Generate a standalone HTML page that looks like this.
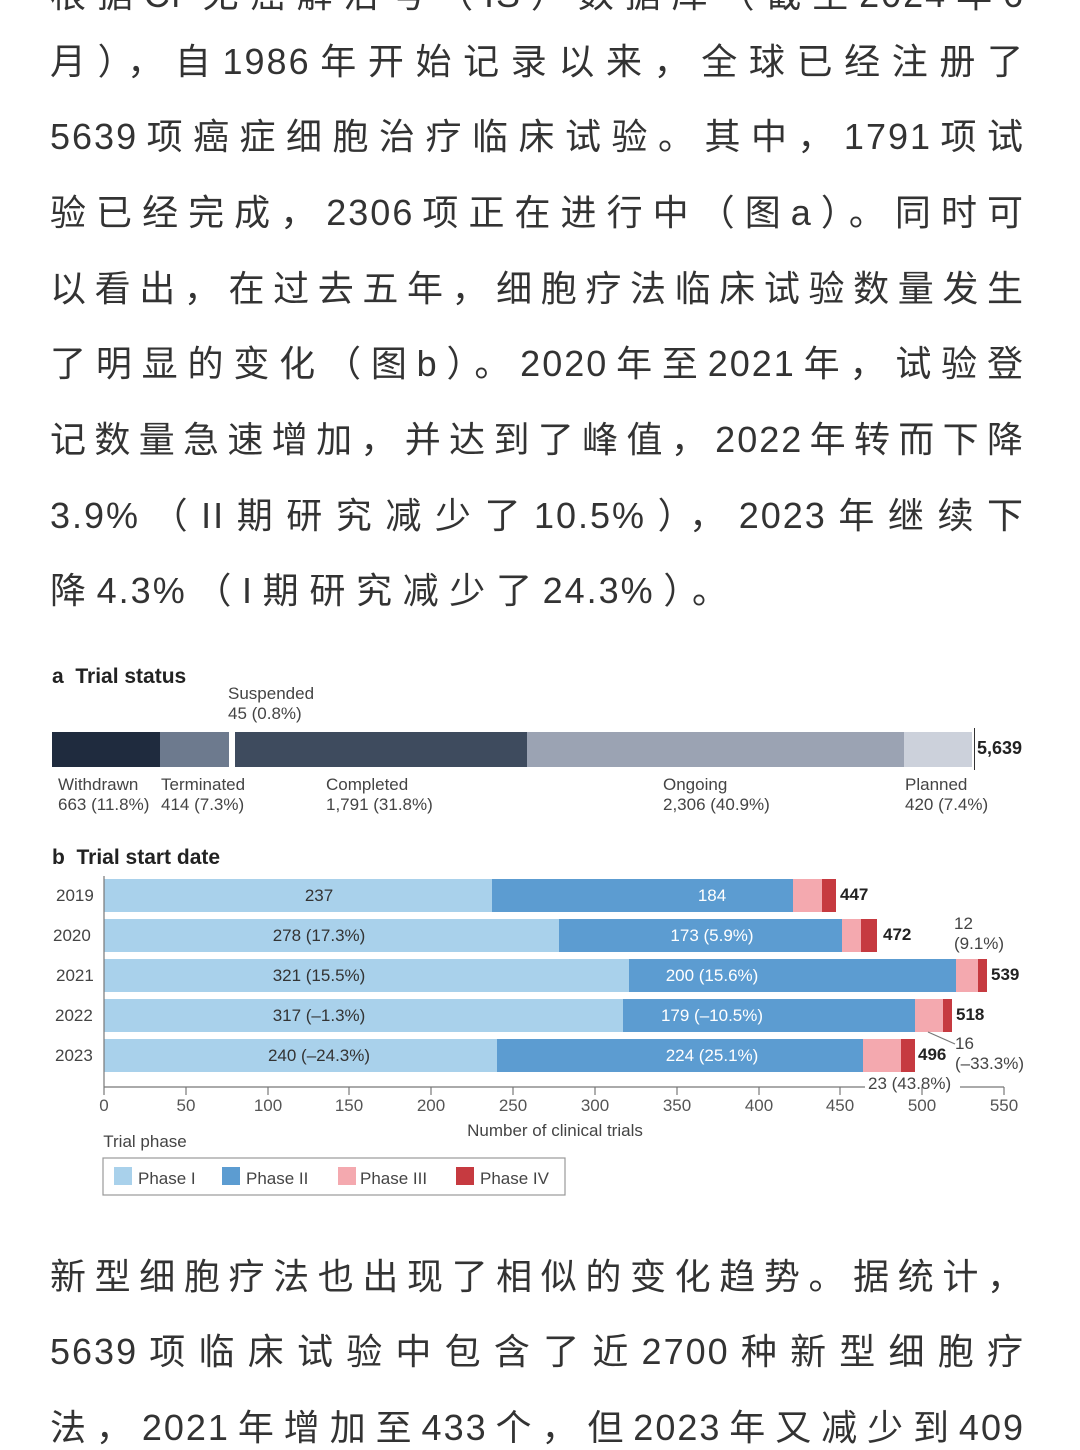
<!DOCTYPE html>
<html><head><meta charset="utf-8"><style>
body{margin:0;width:1080px;height:1439px;background:#fff;overflow:hidden;position:relative;font-family:"Liberation Sans","Noto Sans CJK SC",sans-serif}
.t{position:absolute;left:50px;width:975px;font-size:36px;color:#333;text-align:justify;text-align-last:justify;white-space:nowrap;line-height:44px;letter-spacing:2px}
.a{position:absolute;font-size:17px;color:#444;line-height:20px;white-space:nowrap}
.b{position:absolute;font-weight:bold;color:#222;white-space:nowrap}
.r{position:absolute;height:33px}
.l{position:absolute;font-size:17px;color:#333;line-height:33px;text-align:center;white-space:nowrap}
</style></head><body>
<div class="t" style="top:-27px">根据Ci 无癌解治号（IS）数据库（截至2024年6</div>
<div class="t" style="top:40px">月），自1986年开始记录以来，全球已经注册了</div>
<div class="t" style="top:115px">5639项癌症细胞治疗临床试验。其中，1791项试</div>
<div class="t" style="top:191px">验已经完成，2306项正在进行中（图a）。同时可</div>
<div class="t" style="top:267px">以看出，在过去五年，细胞疗法临床试验数量发生</div>
<div class="t" style="top:342px">了明显的变化（图b）。2020年至2021年，试验登</div>
<div class="t" style="top:418px">记数量急速增加，并达到了峰值，2022年转而下降</div>
<div class="t" style="top:494px">3.9%（II期研究减少了10.5%），2023年继续下</div>
<div class="t" style="top:569px;width:680px">降4.3%（I期研究减少了24.3%）。</div>

<div class="b" style="left:52px;top:665px;font-size:21px">a&nbsp; Trial status</div>
<div class="a" style="left:228px;top:684px">Suspended<br>45 (0.8%)</div>
<div class="r" style="left:52px;top:732px;width:108px;height:35px;background:#1f2b3e"></div>
<div class="r" style="left:160px;top:732px;width:69px;height:35px;background:#6d7a8e"></div>
<div class="r" style="left:235px;top:732px;width:292px;height:35px;background:#3e4b5e"></div>
<div class="r" style="left:527px;top:732px;width:377px;height:35px;background:#9ba3b3"></div>
<div class="r" style="left:904px;top:732px;width:68px;height:35px;background:#ccd1db"></div>
<div style="position:absolute;left:974px;top:728px;width:1px;height:42px;background:#333"></div>
<div class="b" style="left:977px;top:738px;font-size:18px">5,639</div>
<div class="a" style="left:58px;top:775px">Withdrawn<br>663 (11.8%)</div>
<div class="a" style="left:161px;top:775px">Terminated<br>414 (7.3%)</div>
<div class="a" style="left:326px;top:775px">Completed<br>1,791 (31.8%)</div>
<div class="a" style="left:663px;top:775px">Ongoing<br>2,306 (40.9%)</div>
<div class="a" style="left:905px;top:775px">Planned<br>420 (7.4%)</div>

<div class="b" style="left:52px;top:846px;font-size:21px">b&nbsp; Trial start date</div>

<div class="a" style="left:56px;top:886px">2019</div>
<div class="r" style="left:104px;top:879px;width:388px;background:#a9d1eb"></div>
<div class="r" style="left:492px;top:879px;width:301px;background:#5c9cd1"></div>
<div class="r" style="left:793px;top:879px;width:29px;background:#f4a9af"></div>
<div class="r" style="left:822px;top:879px;width:14px;background:#c63a40"></div>
<div class="l" style="left:104px;top:879px;width:430px">237</div>
<div class="l" style="left:492px;top:879px;width:440px;color:#fff">184</div>
<div class="b" style="left:840px;top:885px;font-size:17px">447</div>

<div class="a" style="left:53px;top:926px">2020</div>
<div class="r" style="left:104px;top:919px;width:455px;background:#a9d1eb"></div>
<div class="r" style="left:559px;top:919px;width:283px;background:#5c9cd1"></div>
<div class="r" style="left:842px;top:919px;width:19px;background:#f4a9af"></div>
<div class="r" style="left:861px;top:919px;width:16px;background:#c63a40"></div>
<div class="l" style="left:104px;top:919px;width:430px">278 (17.3%)</div>
<div class="l" style="left:492px;top:919px;width:440px;color:#fff">173 (5.9%)</div>
<div class="b" style="left:883px;top:925px;font-size:17px">472</div>
<div class="a" style="left:954px;top:914px">12<br>(9.1%)</div>

<div class="a" style="left:56px;top:966px">2021</div>
<div class="r" style="left:104px;top:959px;width:525px;background:#a9d1eb"></div>
<div class="r" style="left:629px;top:959px;width:327px;background:#5c9cd1"></div>
<div class="r" style="left:956px;top:959px;width:22px;background:#f4a9af"></div>
<div class="r" style="left:978px;top:959px;width:9px;background:#c63a40"></div>
<div class="l" style="left:104px;top:959px;width:430px">321 (15.5%)</div>
<div class="l" style="left:492px;top:959px;width:440px;color:#fff">200 (15.6%)</div>
<div class="b" style="left:991px;top:965px;font-size:17px">539</div>

<div class="a" style="left:55px;top:1006px">2022</div>
<div class="r" style="left:104px;top:999px;width:519px;background:#a9d1eb"></div>
<div class="r" style="left:623px;top:999px;width:292px;background:#5c9cd1"></div>
<div class="r" style="left:915px;top:999px;width:28px;background:#f4a9af"></div>
<div class="r" style="left:943px;top:999px;width:9px;background:#c63a40"></div>
<div class="l" style="left:104px;top:999px;width:430px">317 (–1.3%)</div>
<div class="l" style="left:492px;top:999px;width:440px;color:#fff">179 (–10.5%)</div>
<div class="b" style="left:956px;top:1005px;font-size:17px">518</div>
<div class="a" style="left:955px;top:1034px">16<br>(–33.3%)</div>

<div class="a" style="left:55px;top:1046px">2023</div>
<div class="r" style="left:104px;top:1039px;width:393px;background:#a9d1eb"></div>
<div class="r" style="left:497px;top:1039px;width:366px;background:#5c9cd1"></div>
<div class="r" style="left:863px;top:1039px;width:38px;background:#f4a9af"></div>
<div class="r" style="left:901px;top:1039px;width:14px;background:#c63a40"></div>
<div class="l" style="left:104px;top:1039px;width:430px">240 (–24.3%)</div>
<div class="l" style="left:492px;top:1039px;width:440px;color:#fff">224 (25.1%)</div>
<div class="b" style="left:918px;top:1045px;font-size:17px">496</div>
<div class="a" style="left:868px;top:1074px;background:#fff">23 (43.8%)</div>

<svg style="position:absolute;left:0;top:0" width="1080" height="1439">
<g stroke="#777" stroke-width="1.2">
<line x1="104" y1="876" x2="104" y2="1087"/>
<line x1="104" y1="1087" x2="865" y2="1087"/>
<line x1="960" y1="1087" x2="1004" y2="1087"/>
<line x1="104" y1="1087" x2="104" y2="1095"/><line x1="186" y1="1087" x2="186" y2="1095"/><line x1="268" y1="1087" x2="268" y2="1095"/><line x1="349" y1="1087" x2="349" y2="1095"/><line x1="431" y1="1087" x2="431" y2="1095"/><line x1="513" y1="1087" x2="513" y2="1095"/><line x1="595" y1="1087" x2="595" y2="1095"/><line x1="677" y1="1087" x2="677" y2="1095"/><line x1="759" y1="1087" x2="759" y2="1095"/><line x1="840" y1="1087" x2="840" y2="1095"/><line x1="922" y1="1087" x2="922" y2="1095"/><line x1="1004" y1="1087" x2="1004" y2="1095"/>
<line x1="928" y1="1032" x2="955" y2="1044"/>
</g>
<g font-size="17" fill="#555" text-anchor="middle" font-family="Liberation Sans">
<text x="104" y="1111">0</text><text x="186" y="1111">50</text><text x="268" y="1111">100</text><text x="349" y="1111">150</text><text x="431" y="1111">200</text><text x="513" y="1111">250</text><text x="595" y="1111">300</text><text x="677" y="1111">350</text><text x="759" y="1111">400</text><text x="840" y="1111">450</text><text x="922" y="1111">500</text><text x="1004" y="1111">550</text>
<text x="555" y="1136" fill="#444">Number of clinical trials</text>
<text x="145" y="1147" fill="#444">Trial phase</text>
</g>
<rect x="103" y="1158" width="462" height="37" fill="#fff" stroke="#999" stroke-width="1.2"/>
<rect x="114" y="1167" width="18" height="18" fill="#a9d1eb"/>
<rect x="222" y="1167" width="18" height="18" fill="#5c9cd1"/>
<rect x="338" y="1167" width="18" height="18" fill="#f4a9af"/>
<rect x="456" y="1167" width="18" height="18" fill="#c63a40"/>
<g font-size="17" fill="#444" font-family="Liberation Sans">
<text x="138" y="1184">Phase I</text><text x="246" y="1184">Phase II</text><text x="360" y="1184">Phase III</text><text x="480" y="1184">Phase IV</text>
</g>
</svg>

<div class="t" style="top:1255px">新型细胞疗法也出现了相似的变化趋势。据统计，</div>
<div class="t" style="top:1330px">5639项临床试验中包含了近2700种新型细胞疗</div>
<div class="t" style="top:1406px">法，2021年增加至433个，但2023年又减少到409</div>
</body></html>
